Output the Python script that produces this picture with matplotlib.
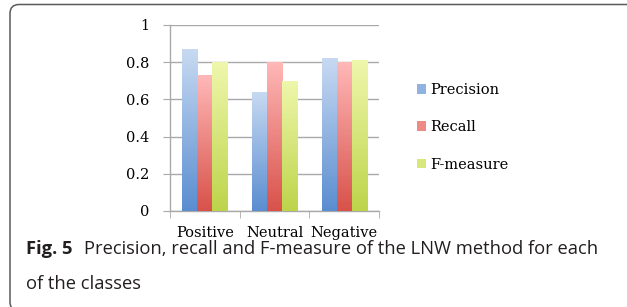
import numpy as np
import matplotlib.pyplot as plt
from matplotlib.colors import LinearSegmentedColormap
from matplotlib.patches import FancyBboxPatch, Patch

categories = ["Positive", "Neutral", "Negative"]
series = ["Precision", "Recall", "F-measure"]
precision = [0.87, 0.64, 0.82]
recall = [0.73, 0.80, 0.80]
f_measure = [0.80, 0.70, 0.81]
yticks = [0, 0.2, 0.4, 0.6, 0.8, 1]
ytick_labels = ["0", "0.2", "0.4", "0.6", "0.8", "1"]

# (top colour, bottom colour) for the gradient fill
gradients = [("#c8daf2", "#5a8dd0"),
             ("#ffb8b8", "#d8524a"),
             ("#eff7ac", "#bdd44a")]
mid_colors = ["#8fb2e0", "#ee8a86", "#d8e77c"]

W, H = 627, 307
fig = plt.figure(figsize=(W / 100, H / 100), dpi=100)
ax = fig.add_axes([170 / W, 1 - 211 / H, 209 / W, 186 / H])

x = np.arange(len(categories))
width = 0.216
offsets = [-width, 0, width]
values = [precision, recall, f_measure]

for vals, off, (top, bot) in zip(values, offsets, gradients):
    cmap = LinearSegmentedColormap.from_list("g", [bot, top])
    bars = ax.bar(x + off, vals, width, color="none", edgecolor="none", zorder=3)
    for b in bars:
        x0, y0 = b.get_x(), b.get_y()
        grad = np.linspace(0, 1, 256).reshape(-1, 1)
        im = ax.imshow(grad, cmap=cmap, origin="lower", aspect="auto",
                       extent=[x0, x0 + b.get_width(), y0, y0 + b.get_height()],
                       zorder=3)
        im.set_clip_path(b)

ax.set_xlim(-0.5, 2.5)
ax.set_ylim(0, 1)

serif = "DejaVu Serif"
ax.set_yticks(yticks)
ax.set_yticklabels(ytick_labels, family=serif, fontsize=10.5)
ax.yaxis.grid(True, color="#a9a9a9", lw=1.0, zorder=0)
ax.tick_params(axis="y", length=5, color="#a9a9a9", pad=10)

ax.set_xticks(x)
ax.set_xticklabels(categories, family=serif, fontsize=10.5)
ax.set_xticks([-0.5, 0.5, 1.5, 2.5], minor=True)
ax.tick_params(axis="x", which="major", length=0, pad=11)
ax.tick_params(axis="x", which="minor", length=5, color="#a9a9a9")

for s in ["top", "right"]:
    ax.spines[s].set_visible(False)
for s in ["left", "bottom"]:
    ax.spines[s].set_color("#a9a9a9")
    ax.spines[s].set_linewidth(1.0)

handles = [Patch(facecolor=c, edgecolor="none") for c in mid_colors]
fig.legend(handles, series, loc="upper left", bbox_to_anchor=(417 / W, 1 - 83 / H),
           frameon=False, prop={"family": serif, "size": 10.5},
           handlelength=0.6, handleheight=0.65, handletextpad=0.3,
           labelspacing=1.6, borderpad=0, borderaxespad=0)

# rounded frame (cropped on right and bottom)
r = 9
frame = FancyBboxPatch((10, -4), 700, H - 4.5 + 4,
                       boxstyle=f"round,pad=0,rounding_size={r}",
                       transform=None, fill=False,
                       edgecolor="#5a5a5a", lw=1.1)
fig.add_artist(frame)

cap_font = "Open Sans"
t1 = fig.text(26 / W, 1 - 254 / H, "Fig. 5", family=cap_font, weight="bold",
              fontsize=13.2, color="#231f20", va="baseline")
ax.annotate("Precision, recall and F-measure of the LNW method for each",
            xy=(1, 0), xycoords=t1, xytext=(8, 0), textcoords="offset points",
            family=cap_font, fontsize=13.2, color="#231f20", va="bottom",
            annotation_clip=False)
fig.text(26 / W, 1 - 289 / H, "of the classes", family=cap_font,
         fontsize=13.2, color="#231f20", va="baseline")

fig.savefig("out.png", dpi=100)
